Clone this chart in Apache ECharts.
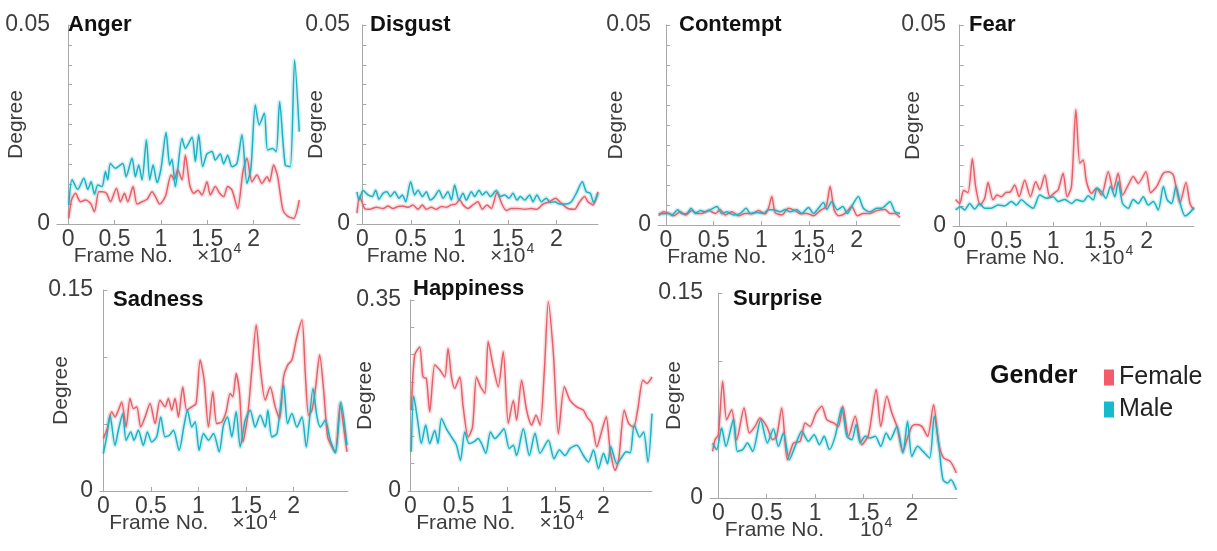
<!DOCTYPE html>
<html>
<head>
<meta charset="utf-8">
<script src="https://cdn.jsdelivr.net/npm/echarts@6/dist/echarts.min.js"></script>
<style>
html,body{margin:0;padding:0;background:#fff;}
#chart{width:1217px;height:551px;}
</style>
</head>
<body>
<div id="chart"></div>
<script>
// x values are frame numbers in units of 10^4, y values are "Degree"
const emotions = ['Anger', 'Disgust', 'Contempt', 'Fear', 'Sadness', 'Happiness', 'Surprise'];
const genders = ['Female', 'Male'];
const xTickValues = [0, 0.5, 1, 1.5, 2];
const yMaxValues = [0.05, 0.05, 0.05, 0.05, 0.15, 0.35, 0.15];
const yTickSteps = [0.005, 0.005, 0.005, 0.005, 0.05, 0.05, 0.05];

const angerFemale = [[0.007,0.0014],[0.036,0.0060],[0.079,0.0077],[0.133,0.0056],[0.187,0.0060],[0.241,0.0052],[0.284,0.0031],[0.330,0.0081],[0.366,0.0081],[0.413,0.0077],[0.456,0.0056],[0.521,0.0090],[0.564,0.0056],[0.607,0.0077],[0.643,0.0056],[0.700,0.0094],[0.743,0.0050],[0.797,0.0056],[0.851,0.0062],[0.905,0.0081],[0.941,0.0069],[0.987,0.0050],[1.048,0.0069],[1.110,0.0123],[1.146,0.0111],[1.181,0.0136],[1.228,0.0111],[1.264,0.0173],[1.311,0.0098],[1.354,0.0077],[1.400,0.0085],[1.443,0.0073],[1.497,0.0106],[1.533,0.0073],[1.587,0.0094],[1.634,0.0077],[1.677,0.0069],[1.720,0.0094],[1.767,0.0085],[1.828,0.0039],[1.885,0.0132],[1.928,0.0165],[1.982,0.0106],[2.036,0.0123],[2.090,0.0102],[2.144,0.0119],[2.172,0.0106],[2.215,0.0148],[2.259,0.0119],[2.316,0.0035],[2.366,0.0020],[2.431,0.0014],[2.492,0.0060]];
const angerMale = [[0.007,0.0048],[0.043,0.0111],[0.104,0.0087],[0.169,0.0115],[0.212,0.0087],[0.248,0.0106],[0.284,0.0075],[0.320,0.0098],[0.366,0.0094],[0.402,0.0132],[0.427,0.0111],[0.456,0.0152],[0.510,0.0140],[0.589,0.0152],[0.625,0.0119],[0.689,0.0165],[0.725,0.0119],[0.761,0.0148],[0.797,0.0111],[0.844,0.0211],[0.880,0.0111],[0.916,0.0148],[0.959,0.0104],[1.002,0.0140],[1.056,0.0230],[1.095,0.0148],[1.120,0.0163],[1.156,0.0094],[1.228,0.0215],[1.264,0.0190],[1.336,0.0218],[1.372,0.0157],[1.408,0.0224],[1.451,0.0144],[1.497,0.0176],[1.551,0.0182],[1.587,0.0161],[1.641,0.0176],[1.677,0.0151],[1.720,0.0173],[1.767,0.0144],[1.820,0.0152],[1.874,0.0224],[1.928,0.0102],[1.971,0.0140],[2.018,0.0299],[2.061,0.0249],[2.115,0.0278],[2.151,0.0186],[2.205,0.0190],[2.244,0.0182],[2.280,0.0307],[2.341,0.0148],[2.395,0.0144],[2.442,0.0412],[2.492,0.0232]];

const disgustFemale = [[-0.055,0.0027],[-0.027,0.0069],[0.024,0.0039],[0.076,0.0037],[0.144,0.0042],[0.213,0.0039],[0.265,0.0045],[0.316,0.0039],[0.368,0.0044],[0.419,0.0045],[0.471,0.0042],[0.522,0.0048],[0.574,0.0037],[0.619,0.0048],[0.660,0.0037],[0.711,0.0042],[0.763,0.0037],[0.814,0.0044],[0.866,0.0042],[0.918,0.0048],[0.962,0.0050],[1.003,0.0060],[1.038,0.0048],[1.089,0.0039],[1.141,0.0048],[1.192,0.0056],[1.237,0.0037],[1.285,0.0048],[1.330,0.0039],[1.388,0.0079],[1.443,0.0048],[1.485,0.0034],[1.536,0.0039],[1.605,0.0039],[1.674,0.0037],[1.742,0.0039],[1.801,0.0037],[1.863,0.0050],[1.931,0.0056],[1.993,0.0065],[2.052,0.0052],[2.120,0.0039],[2.189,0.0037],[2.241,0.0056],[2.292,0.0069],[2.326,0.0056],[2.378,0.0048],[2.430,0.0081]];
const disgustMale = [[-0.055,0.0081],[-0.034,0.0060],[0.007,0.0084],[0.058,0.0073],[0.103,0.0069],[0.137,0.0085],[0.172,0.0062],[0.213,0.0077],[0.254,0.0081],[0.289,0.0069],[0.333,0.0081],[0.378,0.0065],[0.412,0.0073],[0.447,0.0056],[0.498,0.0106],[0.540,0.0073],[0.574,0.0085],[0.619,0.0069],[0.660,0.0081],[0.701,0.0060],[0.746,0.0069],[0.790,0.0085],[0.832,0.0065],[0.883,0.0081],[0.918,0.0060],[0.952,0.0098],[0.997,0.0060],[1.038,0.0077],[1.072,0.0060],[1.124,0.0081],[1.158,0.0069],[1.203,0.0085],[1.237,0.0073],[1.278,0.0081],[1.320,0.0069],[1.381,0.0084],[1.423,0.0069],[1.467,0.0073],[1.512,0.0065],[1.553,0.0077],[1.595,0.0060],[1.629,0.0069],[1.674,0.0060],[1.725,0.0073],[1.759,0.0056],[1.801,0.0073],[1.845,0.0056],[1.897,0.0065],[1.938,0.0054],[1.983,0.0056],[2.034,0.0050],[2.103,0.0050],[2.155,0.0056],[2.206,0.0077],[2.268,0.0106],[2.309,0.0081],[2.351,0.0077],[2.385,0.0054],[2.430,0.0077]];

const contemptFemale = [[-0.077,0.0023],[-0.024,0.0033],[0.028,0.0029],[0.080,0.0023],[0.150,0.0033],[0.202,0.0025],[0.272,0.0036],[0.325,0.0029],[0.377,0.0029],[0.447,0.0036],[0.517,0.0029],[0.569,0.0038],[0.621,0.0025],[0.691,0.0033],[0.761,0.0023],[0.831,0.0029],[0.901,0.0028],[0.970,0.0036],[1.040,0.0028],[1.075,0.0042],[1.110,0.0071],[1.145,0.0031],[1.215,0.0025],[1.284,0.0042],[1.354,0.0036],[1.407,0.0028],[1.476,0.0029],[1.546,0.0023],[1.616,0.0036],[1.679,0.0046],[1.721,0.0096],[1.763,0.0038],[1.808,0.0023],[1.878,0.0029],[1.948,0.0046],[2.007,0.0023],[2.070,0.0029],[2.140,0.0029],[2.209,0.0036],[2.297,0.0039],[2.349,0.0029],[2.401,0.0029],[2.454,0.0019]];
const contemptMale = [[-0.077,0.0029],[-0.024,0.0028],[0.028,0.0029],[0.063,0.0025],[0.122,0.0038],[0.168,0.0028],[0.220,0.0029],[0.262,0.0042],[0.307,0.0029],[0.360,0.0036],[0.412,0.0033],[0.464,0.0038],[0.534,0.0046],[0.586,0.0028],[0.639,0.0033],[0.709,0.0025],[0.778,0.0029],[0.841,0.0042],[0.883,0.0029],[0.953,0.0031],[1.023,0.0029],[1.075,0.0038],[1.127,0.0038],[1.197,0.0033],[1.250,0.0039],[1.302,0.0033],[1.372,0.0038],[1.424,0.0029],[1.494,0.0044],[1.546,0.0029],[1.599,0.0042],[1.651,0.0056],[1.686,0.0039],[1.738,0.0058],[1.798,0.0038],[1.853,0.0046],[1.902,0.0029],[1.955,0.0050],[2.017,0.0071],[2.070,0.0042],[2.140,0.0033],[2.209,0.0042],[2.262,0.0042],[2.349,0.0058],[2.401,0.0033],[2.454,0.0029]];

const fearFemale = [[-0.043,0.0066],[0.000,0.0056],[0.043,0.0088],[0.089,0.0083],[0.136,0.0168],[0.171,0.0098],[0.221,0.0052],[0.268,0.0069],[0.304,0.0108],[0.357,0.0065],[0.400,0.0077],[0.446,0.0073],[0.493,0.0083],[0.543,0.0085],[0.589,0.0102],[0.636,0.0073],[0.696,0.0114],[0.757,0.0073],[0.814,0.0110],[0.857,0.0090],[0.911,0.0127],[0.964,0.0073],[1.018,0.0083],[1.054,0.0090],[1.107,0.0131],[1.150,0.0073],[1.196,0.0098],[1.243,0.0289],[1.286,0.0156],[1.321,0.0164],[1.357,0.0110],[1.411,0.0081],[1.464,0.0094],[1.518,0.0077],[1.589,0.0135],[1.643,0.0090],[1.696,0.0131],[1.743,0.0077],[1.804,0.0102],[1.857,0.0123],[1.911,0.0106],[1.993,0.0135],[2.043,0.0083],[2.107,0.0098],[2.179,0.0131],[2.232,0.0135],[2.286,0.0127],[2.357,0.0058],[2.421,0.0108],[2.464,0.0056],[2.507,0.0040]];
const fearMale = [[-0.043,0.0040],[0.007,0.0048],[0.054,0.0040],[0.107,0.0056],[0.161,0.0042],[0.214,0.0056],[0.268,0.0044],[0.339,0.0044],[0.411,0.0052],[0.482,0.0050],[0.554,0.0061],[0.607,0.0052],[0.661,0.0065],[0.714,0.0055],[0.786,0.0044],[0.857,0.0077],[0.929,0.0069],[1.000,0.0073],[1.054,0.0061],[1.125,0.0066],[1.196,0.0056],[1.250,0.0065],[1.321,0.0061],[1.375,0.0075],[1.429,0.0065],[1.471,0.0094],[1.518,0.0085],[1.564,0.0069],[1.614,0.0098],[1.661,0.0073],[1.696,0.0110],[1.743,0.0056],[1.804,0.0044],[1.857,0.0066],[1.911,0.0056],[1.964,0.0073],[2.018,0.0052],[2.071,0.0061],[2.125,0.0040],[2.179,0.0098],[2.221,0.0065],[2.268,0.0056],[2.314,0.0098],[2.364,0.0052],[2.411,0.0025],[2.457,0.0032],[2.507,0.0046]];

const sadnessFemale = [[0.000,0.0391],[0.042,0.0466],[0.088,0.0591],[0.123,0.0553],[0.158,0.0603],[0.193,0.0665],[0.239,0.0478],[0.281,0.0690],[0.316,0.0615],[0.351,0.0628],[0.393,0.0478],[0.439,0.0553],[0.491,0.0653],[0.544,0.0503],[0.596,0.0678],[0.649,0.0628],[0.684,0.0690],[0.719,0.0603],[0.754,0.0690],[0.789,0.0553],[0.835,0.0777],[0.877,0.0603],[0.930,0.0628],[0.975,0.0653],[1.018,0.0977],[1.060,0.0827],[1.105,0.0478],[1.151,0.0740],[1.193,0.0503],[1.246,0.0516],[1.291,0.0591],[1.333,0.0728],[1.361,0.0703],[1.396,0.0877],[1.432,0.0728],[1.467,0.0366],[1.516,0.0553],[1.561,0.0902],[1.607,0.1238],[1.649,0.0927],[1.702,0.0678],[1.754,0.0777],[1.807,0.0628],[1.853,0.0541],[1.895,0.0852],[1.937,0.0939],[1.982,0.0977],[2.035,0.1151],[2.088,0.1276],[2.123,0.0877],[2.158,0.0566],[2.193,0.0603],[2.228,0.0752],[2.274,0.1014],[2.316,0.0752],[2.358,0.0404],[2.404,0.0329],[2.439,0.0292],[2.491,0.0653],[2.526,0.0478],[2.561,0.0292]];
const sadnessMale = [[0.000,0.0279],[0.035,0.0404],[0.070,0.0566],[0.123,0.0341],[0.158,0.0453],[0.204,0.0578],[0.239,0.0379],[0.288,0.0441],[0.323,0.0379],[0.368,0.0453],[0.421,0.0341],[0.463,0.0441],[0.509,0.0366],[0.561,0.0404],[0.604,0.0553],[0.649,0.0404],[0.695,0.0416],[0.737,0.0453],[0.796,0.0304],[0.849,0.0491],[0.884,0.0603],[0.930,0.0478],[0.965,0.0516],[1.007,0.0304],[1.053,0.0429],[1.105,0.0379],[1.158,0.0429],[1.218,0.0292],[1.263,0.0491],[1.305,0.0553],[1.351,0.0404],[1.396,0.0591],[1.439,0.0329],[1.491,0.0528],[1.544,0.0603],[1.596,0.0478],[1.649,0.0566],[1.702,0.0478],[1.730,0.0603],[1.772,0.0404],[1.825,0.0429],[1.895,0.0790],[1.937,0.0503],[1.982,0.0578],[2.035,0.0478],[2.088,0.0553],[2.133,0.0329],[2.204,0.0765],[2.246,0.0553],[2.281,0.0478],[2.333,0.0528],[2.386,0.0379],[2.439,0.0284],[2.498,0.0665],[2.561,0.0341]];

const happinessFemale = [[0.010,0.148],[0.045,0.249],[0.097,0.264],[0.131,0.209],[0.166,0.206],[0.201,0.145],[0.253,0.231],[0.304,0.222],[0.356,0.209],[0.391,0.261],[0.426,0.209],[0.460,0.188],[0.512,0.209],[0.547,0.154],[0.599,0.099],[0.644,0.117],[0.685,0.209],[0.727,0.191],[0.772,0.179],[0.806,0.274],[0.858,0.228],[0.910,0.191],[0.962,0.255],[1.014,0.124],[1.066,0.166],[1.100,0.130],[1.152,0.203],[1.204,0.148],[1.256,0.121],[1.301,0.139],[1.343,0.121],[1.388,0.222],[1.429,0.347],[1.481,0.252],[1.533,0.105],[1.595,0.191],[1.654,0.166],[1.723,0.154],[1.792,0.148],[1.827,0.136],[1.879,0.124],[1.931,0.081],[1.983,0.111],[2.028,0.136],[2.069,0.075],[2.121,0.038],[2.156,0.056],[2.215,0.148],[2.260,0.124],[2.311,0.117],[2.353,0.148],[2.408,0.203],[2.450,0.197],[2.502,0.209]];
const happinessMale = [[0.010,0.072],[0.035,0.174],[0.080,0.124],[0.114,0.087],[0.159,0.121],[0.201,0.087],[0.253,0.111],[0.287,0.087],[0.322,0.133],[0.374,0.114],[0.426,0.099],[0.478,0.084],[0.519,0.056],[0.564,0.108],[0.609,0.087],[0.657,0.090],[0.702,0.096],[0.737,0.087],[0.782,0.069],[0.830,0.108],[0.875,0.096],[0.927,0.105],[0.969,0.114],[1.024,0.078],[1.066,0.084],[1.100,0.065],[1.170,0.114],[1.232,0.065],[1.291,0.106],[1.343,0.069],[1.429,0.093],[1.488,0.059],[1.543,0.075],[1.602,0.065],[1.654,0.078],[1.723,0.084],[1.792,0.065],[1.844,0.053],[1.896,0.075],[1.948,0.041],[2.000,0.069],[2.042,0.050],[2.076,0.081],[2.138,0.050],[2.190,0.062],[2.235,0.072],[2.277,0.070],[2.318,0.121],[2.374,0.099],[2.415,0.108],[2.460,0.053],[2.502,0.142]];

const surpriseFemale = [[-0.059,0.0341],[-0.034,0.0427],[0.000,0.0463],[0.045,0.0854],[0.086,0.0573],[0.138,0.0646],[0.190,0.0427],[0.266,0.0659],[0.321,0.0476],[0.379,0.0524],[0.431,0.0585],[0.500,0.0524],[0.562,0.0427],[0.603,0.0451],[0.655,0.0659],[0.714,0.0280],[0.776,0.0402],[0.845,0.0415],[0.897,0.0549],[0.948,0.0524],[1.010,0.0622],[1.069,0.0671],[1.121,0.0573],[1.190,0.0549],[1.241,0.0524],[1.286,0.0671],[1.345,0.0451],[1.414,0.0598],[1.483,0.0390],[1.552,0.0463],[1.631,0.0793],[1.679,0.0524],[1.741,0.0744],[1.793,0.0622],[1.845,0.0524],[1.907,0.0341],[1.948,0.0427],[2.000,0.0524],[2.045,0.0537],[2.103,0.0524],[2.162,0.0451],[2.224,0.0683],[2.276,0.0402],[2.328,0.0293],[2.397,0.0268],[2.459,0.0183]];
const surpriseMale = [[-0.059,0.0402],[-0.017,0.0354],[0.034,0.0512],[0.079,0.0378],[0.155,0.0573],[0.197,0.0341],[0.252,0.0354],[0.300,0.0402],[0.355,0.0341],[0.438,0.0573],[0.507,0.0402],[0.569,0.0505],[0.621,0.0378],[0.672,0.0476],[0.734,0.0280],[0.793,0.0378],[0.862,0.0488],[0.931,0.0415],[0.990,0.0463],[1.045,0.0390],[1.093,0.0451],[1.148,0.0354],[1.207,0.0451],[1.276,0.0659],[1.328,0.0451],[1.379,0.0427],[1.424,0.0537],[1.466,0.0402],[1.517,0.0451],[1.569,0.0439],[1.621,0.0451],[1.679,0.0378],[1.734,0.0476],[1.776,0.0427],[1.845,0.0524],[1.907,0.0329],[1.955,0.0561],[2.000,0.0305],[2.059,0.0378],[2.114,0.0341],[2.183,0.0293],[2.231,0.0598],[2.276,0.0402],[2.321,0.0134],[2.369,0.0110],[2.403,0.0134],[2.459,0.0061]];

const femaleSeries = [angerFemale, disgustFemale, contemptFemale, fearFemale, sadnessFemale, happinessFemale, surpriseFemale];
const maleSeries = [angerMale, disgustMale, contemptMale, fearMale, sadnessMale, happinessMale, surpriseMale];

// ---- layout (pixels) ----
const layout = [
  {left: 57,  top: 25,  width: 243, height: 199, xmin: -0.12,  xmax: 2.50,  tx: 68,  ty: 26,  gap: 30, shift: -21, unit: '×10', ugap: 24},
  {left: 357, top: 25,  width: 241, height: 199, xmin: -0.055, xmax: 2.43,  tx: 370, ty: 26,  gap: 30, shift: -27, unit: '×10', ugap: 24},
  {left: 658, top: 25,  width: 242, height: 200, xmin: -0.084, xmax: 2.454, tx: 679, ty: 26,  gap: 31, shift: -28, unit: '×10', ugap: 24},
  {left: 953, top: 25,  width: 241, height: 201, xmin: -0.071, xmax: 2.507, tx: 969, ty: 26,  gap: 29, shift: -24, unit: '×10', ugap: 24},
  {left: 100, top: 290, width: 248, height: 201, xmin: -0.035, xmax: 2.572, tx: 113, ty: 301, gap: 28, shift: -31, unit: '×10', ugap: 24},
  {left: 408, top: 300, width: 244, height: 191, xmin: -0.024, xmax: 2.502, tx: 413, ty: 290, gap: 32, shift: -30, unit: '×10', ugap: 24},
  {left: 710, top: 293, width: 247, height: 205, xmin: -0.086, xmax: 2.466, tx: 733, ty: 300, gap: 25, shift: -25, unit: '10',  ugap: 36}
];

const FEMALE = '#E5606B';
const MALE = '#1DB1C1';
const FONT = 'Liberation Sans, Arial, Helvetica, sans-serif';
const TXT = '#3d3d3d';
const AXIS = '#a8a8a8';

const grids = [], xAxes = [], yAxes = [], series = [], titles = [];

layout.forEach((L, i) => {
  grids.push({left: L.left, top: L.top, width: L.width, height: L.height, containLabel: false, outerBoundsMode: 'none'});
  xAxes.push({
    type: 'value', gridIndex: i, min: L.xmin, max: L.xmax,
    axisLine: {show: true, lineStyle: {color: AXIS, width: 1}},
    axisTick: {show: true, inside: true, length: 4, customValues: xTickValues, lineStyle: {color: AXIS}},
    axisLabel: {customValues: xTickValues, color: TXT, fontFamily: FONT, fontSize: 23, margin: 4,
      formatter: v => String(v)},
    splitLine: {show: false},
    name: '{a|Frame No.}{g| }{b|' + L.unit + '}{c|4}',
    nameLocation: 'middle', nameGap: 18, nameMoveOverlap: false,
    nameTextStyle: {
      padding: [0, -2 * L.shift, 0, 0],
      rich: {
        a: {fontFamily: FONT, fontSize: 21, color: TXT},
        g: {width: L.ugap, fontSize: 21},
        b: {fontFamily: FONT, fontSize: 21, color: TXT},
        c: {fontFamily: FONT, fontSize: 14, color: TXT, padding: [0, 0, 14, 1]}
      }
    }
  });
  const ymax = yMaxValues[i];
  yAxes.push({
    type: 'value', gridIndex: i, min: 0, max: ymax, interval: yTickSteps[i],
    axisLine: {show: true, lineStyle: {color: AXIS, width: 1}},
    axisTick: {show: true, inside: true, length: 4, lineStyle: {color: AXIS}},
    axisLabel: {customValues: [0, ymax], color: TXT, fontFamily: FONT, fontSize: 23, margin: 7,
      formatter: v => (v === 0 ? '0' : String(ymax))},
    splitLine: {show: false},
    name: 'Degree', nameLocation: 'middle', nameGap: L.gap, nameMoveOverlap: false,
    nameTextStyle: {fontFamily: FONT, fontSize: 21, color: TXT}
  });
  titles.push({
    text: emotions[i], left: L.tx, top: L.ty - 12, padding: 0,
    textStyle: {fontFamily: FONT, fontSize: 22, fontWeight: 'bold', color: '#111'}
  });
  [[femaleSeries[i], FEMALE, 'Female'], [maleSeries[i], MALE, 'Male']].forEach(([d, col, nm]) => {
    series.push({
      name: nm, type: 'line', xAxisIndex: i, yAxisIndex: i, data: d,
      showSymbol: false, smooth: 0.25, silent: true, z: 1,
      itemStyle: {color: col},
      lineStyle: {color: col, width: 4.5, opacity: 0.2}
    });
  });
  [[femaleSeries[i], FEMALE, 'Female'], [maleSeries[i], MALE, 'Male']].forEach(([d, col, nm]) => {
    series.push({
      name: nm, type: 'line', xAxisIndex: i, yAxisIndex: i, data: d,
      showSymbol: false, smooth: 0.25, silent: true, z: 3,
      itemStyle: {color: col},
      lineStyle: {color: col, width: 1.5}
    });
  });
});

titles.push({
  text: 'Gender', left: 990, top: 364, padding: 0,
  textStyle: {fontFamily: FONT, fontSize: 25, fontWeight: 'bold', color: '#111'}
});

const chart = echarts.init(document.getElementById('chart'), null, {renderer: 'canvas'});
chart.setOption({
  backgroundColor: '#ffffff',
  animation: false,
  title: titles,
  legend: {
    data: [
      {name: genders[0], itemStyle: {color: '#F25B67'}},
      {name: genders[1], itemStyle: {color: '#17BACD'}}
    ],
    orient: 'vertical', left: 1104, top: 365, padding: 0,
    icon: 'rect', itemWidth: 10, itemHeight: 16, itemGap: 7,
    selectedMode: false,
    textStyle: {fontFamily: FONT, fontSize: 25, color: '#222'}
  },
  grid: grids,
  xAxis: xAxes,
  yAxis: yAxes,
  series: series
});
</script>
</body>
</html>
